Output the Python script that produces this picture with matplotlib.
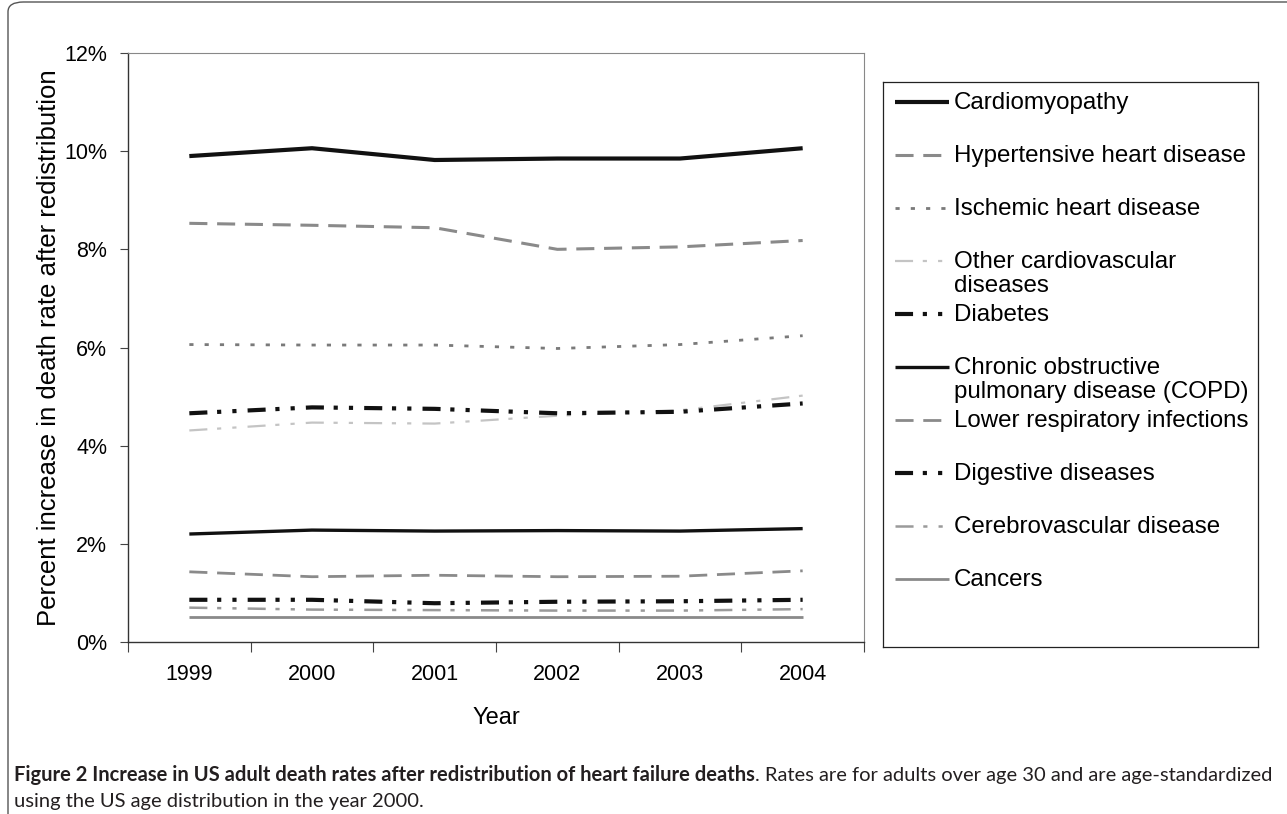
import matplotlib
matplotlib.use('Agg')
import numpy as np
import matplotlib.pyplot as plt
from matplotlib.patches import FancyBboxPatch
import matplotlib.ticker as mticker

plt.rcParams['font.family'] = ['Liberation Sans', 'DejaVu Sans']
plt.rcParams['lines.scale_dashes'] = False

years = ['1999', '2000', '2001', '2002', '2003', '2004']

# percent increase in death rate
cardiomyopathy = [9.90, 10.06, 9.82, 9.85, 9.85, 10.06]
hypertensive = [8.53, 8.49, 8.44, 8.00, 8.05, 8.18]
ischemic = [6.06, 6.05, 6.05, 5.98, 6.06, 6.24]
other_cvd = [4.31, 4.47, 4.45, 4.61, 4.72, 5.02]
diabetes = [4.66, 4.78, 4.75, 4.66, 4.69, 4.86]
copd = [2.20, 2.28, 2.26, 2.27, 2.26, 2.31]
lower_resp = [1.43, 1.33, 1.36, 1.33, 1.34, 1.45]
digestive = [0.86, 0.86, 0.79, 0.82, 0.83, 0.86]
cerebro = [0.70, 0.66, 0.65, 0.64, 0.64, 0.67]
cancers = [0.50, 0.50, 0.50, 0.50, 0.50, 0.50]

labels = ['Cardiomyopathy', 'Hypertensive heart disease', 'Ischemic heart disease',
          'Other cardiovascular\ndiseases', 'Diabetes',
          'Chronic obstructive\npulmonary disease (COPD)', 'Lower respiratory infections',
          'Digestive diseases', 'Cerebrovascular disease', 'Cancers']
series = [cardiomyopathy, hypertensive, ischemic, other_cvd, diabetes,
          copd, lower_resp, digestive, cerebro, cancers]

# (color, linewidth, dash pattern in points)
dash_dot_dot = (13, 7, 3, 8, 3, 8)
styles = [
    ('#111111', 3.0, None),
    ('#8a8a8a', 2.2, (13, 7)),
    ('#7a7a7a', 2.0, (3, 8)),
    ('#c4c4c4', 1.6, dash_dot_dot),
    ('#111111', 3.0, dash_dot_dot),
    ('#111111', 2.4, None),
    ('#8a8a8a', 2.0, (13, 7)),
    ('#111111', 3.0, dash_dot_dot),
    ('#9a9a9a', 1.8, dash_dot_dot),
    ('#8a8a8a', 2.0, None),
]

W, H = 1287, 814
fig = plt.figure(figsize=(W / 100, H / 100), dpi=100)

ax = fig.add_axes([128 / W, 1 - 642 / H, (864 - 128) / W, (642 - 53) / H])
x = np.arange(len(years))
for vals, (col, lw, dash) in zip(series, styles):
    line, = ax.plot(x, vals, color=col, lw=lw, solid_capstyle='butt')
    if dash is not None:
        line.set_dashes(dash)

ax.set_xlim(-0.5, len(years) - 0.5)
ax.set_ylim(0, 12)
ax.set_yticks(np.arange(0, 13, 2))
ax.yaxis.set_major_formatter(mticker.FuncFormatter(lambda v, p: f'{v:.0f}%'))
ax.set_xticks(x)
ax.set_xticklabels(years)
ax.set_xticks(np.arange(-0.5, len(years)), minor=True)
ax.tick_params(axis='x', which='major', length=0, labelsize=15.5, pad=15.5)
ax.tick_params(axis='x', which='minor', length=7, width=0.8, color='#444', direction='out')
ax.tick_params(axis='y', length=6, width=0.8, color='#444', labelsize=15.5, pad=9)
for s in ['left', 'bottom']:
    ax.spines[s].set_color('#333')
    ax.spines[s].set_linewidth(1.0)
for s in ['top', 'right']:
    ax.spines[s].set_color('#888')
    ax.spines[s].set_linewidth(0.8)
ax.set_xlabel('Year', fontsize=17, labelpad=16)
ax.set_ylabel('Percent increase in death rate after redistribution', fontsize=18.5, labelpad=2)

# legend box, Excel style with fixed slots
lax = fig.add_axes([883 / W, 1 - 647 / H, (1258 - 883) / W, (647 - 82) / H])
lax.set_xlim(0, 1)
lax.set_ylim(1, 0)
lax.set_xticks([])
lax.set_yticks([])
for s in lax.spines.values():
    s.set_color('#222')
    s.set_linewidth(0.9)
slot_y = (20 + np.arange(len(labels)) * 53.0) / 565.0
for yy, lab, (col, lw, dash) in zip(slot_y, labels, styles):
    ln, = lax.plot([0.032, 0.175], [yy, yy], color=col, lw=lw, solid_capstyle='butt')
    if dash is not None:
        ln.set_dashes(dash)
    lax.text(0.188, yy - 10 / 565.0, lab, fontsize=17.4, va='top', ha='left', linespacing=1.1)

# outer frame with rounded corner
frame = FancyBboxPatch((8 / W, -0.2), 1.2, 1.2 - 2 / H,
                       boxstyle='round,pad=0,rounding_size=0.012',
                       transform=fig.transFigure, fill=False, ec='#555', lw=1.0,
                       clip_on=False)
fig.patches.append(frame)

# caption, sized so the first line spans the figure like the original
cap_font = ['Lato', 'Liberation Sans']
cap_col = '#231f20'
bold = fig.text(14 / W, 1 - 775 / H,
                'Figure 2 Increase in US adult death rates after redistribution of heart failure deaths',
                fontsize=12.5, fontweight='bold', family=cap_font, va='center', color=cap_col)
rest = fig.text(0, 1 - 775 / H,
                '. Rates are for adults over age 30 and are age-standardized',
                fontsize=12.5, family=cap_font, va='center', color=cap_col)
line2 = fig.text(14 / W, 1 - 801 / H, 'using the US age distribution in the year 2000.',
                 fontsize=12.5, family=cap_font, va='center', color=cap_col)
fig.canvas.draw()
total = bold.get_window_extent().width + rest.get_window_extent().width
size = 12.5 * (1264 / total)
for t in (bold, rest, line2):
    t.set_fontsize(size)
fig.canvas.draw()
rest.set_x(bold.get_window_extent().x1 / W)

fig.savefig('out.png', dpi=100)
